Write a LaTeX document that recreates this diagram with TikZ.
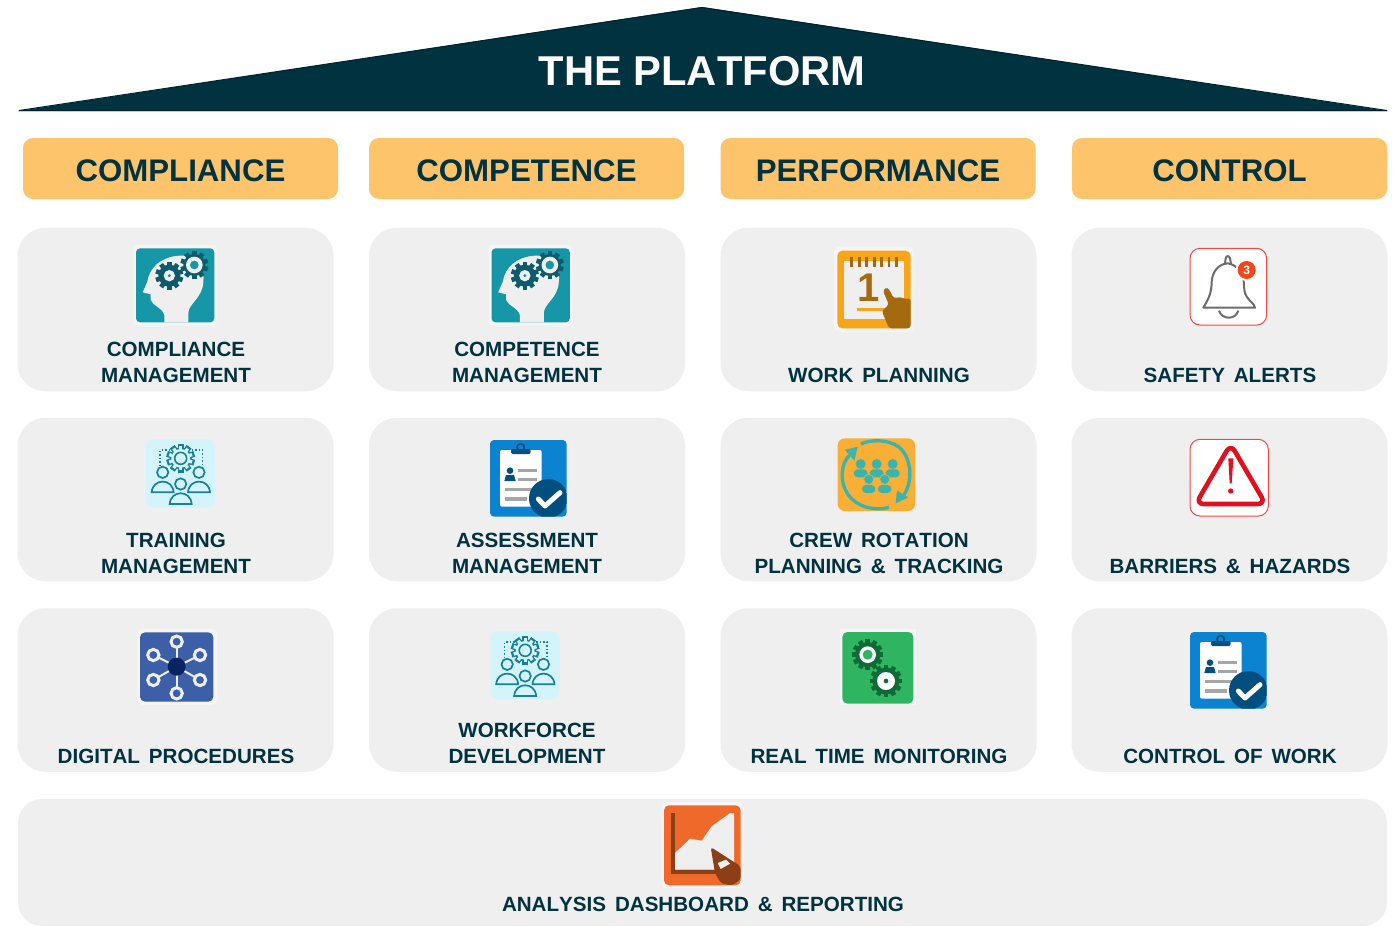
\documentclass[tikz,border=0pt]{standalone}
\usepackage{fontspec}
\setmainfont[Kerning=Off]{Liberation Sans}
\newfontfamily\labfont[Kerning=Off,WordSpace=1.55]{Liberation Sans}
\newcommand{\hdtext}[1]{\raisebox{0pt}[25pt][0pt]{#1}}
\definecolor{navy}{HTML}{00323F}
\definecolor{navyd}{HTML}{00222C}
\definecolor{amber}{HTML}{FDC46C}
\definecolor{panelgray}{HTML}{EFEFEF}
\definecolor{halo}{HTML}{F5F5F5}
\definecolor{teal1}{HTML}{1597A8}
\definecolor{teal2}{HTML}{0D5C6B}
\definecolor{cal}{HTML}{F9A51A}
\definecolor{calb}{HTML}{A5690F}
\definecolor{redl}{HTML}{F04848}
\definecolor{redw}{HTML}{E0101E}
\definecolor{badge}{HTML}{F0481A}
\definecolor{cyanb}{HTML}{D3F4FB}
\definecolor{peop}{HTML}{1A7F9C}
\definecolor{blueb}{HTML}{0B83D0}
\definecolor{bluedk}{HTML}{004F80}
\definecolor{crewo}{HTML}{F9AE35}
\definecolor{crewt}{HTML}{3BB4AE}
\definecolor{digb}{HTML}{3C5FA8}
\definecolor{digd}{HTML}{0A2463}
\definecolor{grn}{HTML}{2FB562}
\definecolor{grnd}{HTML}{0F6B35}
\definecolor{rep}{HTML}{EF6A2A}
\definecolor{repd}{HTML}{8C3F17}
\tikzset{
  panel/.style={fill=panelgray,draw=none,rounded corners=28pt,inner sep=0,outer sep=0},
  header/.style={fill=amber,draw=none,rounded corners=10pt,inner sep=0,outer sep=0,text=navy,
    font=\fontsize{31.2}{36}\selectfont\bfseries},
  lab/.style={anchor=south,align=center,inner sep=0,text=navy,
    font=\labfont\fontsize{20.6}{26}\selectfont\bfseries},
  icontext/.style={inner sep=0,font=\bfseries},
}
% gear: x y radius teeth toothlength toothhalfwidth colour
\newcommand{\gearshape}[7]{%
  \fill[#7] (#1,#2) circle[radius=#3];
  \foreach \i in {1,...,#4}{%
    \pgfmathsetmacro\ga{\i*360/#4}
    \fill[#7,shift={(#1,#2)},rotate=\ga] (-#6,0) rectangle (#6,#3+#5);
  }%
}
\newcommand{\headicon}[2]{%
\begin{scope}[shift={(#1,#2)},scale=1/3]
  \fill[halo,rounded corners=3pt] (40,30) rectangle (290,272);
  \fill[teal1,rounded corners=4pt] (48,40) rectangle (283,262);
  \fill[panelgray] (133,262) -- (133,240) .. controls (125,215) and (100,215) .. (92,195)
    -- (92,178) -- (68,172) -- (82,140) .. controls (88,95) and (130,60) .. (190,62)
    .. controls (235,65) and (255,110) .. (250,140) .. controls (248,190) and (205,205) .. (205,235)
    -- (205,262) -- cycle;
  \gearshape{148}{122}{33}{10}{9}{7}{teal2}
  \fill[panelgray] (148,122) circle[radius=17];
  \fill[teal1] (148,122) circle[radius=5];
  \gearshape{223}{90}{33}{10}{9}{7}{teal2}
  \fill[panelgray] (223,90) circle[radius=25];
  \fill[teal1] (223,90) circle[radius=13];
\end{scope}}
\newcommand{\peopleicon}[2]{%
\begin{scope}[shift={(#1,#2)},scale=1/3]
  \fill[cyanb,rounded corners=8pt] (48,27) rectangle (255,233);
  \draw[peop,line width=1.5pt,dotted] (120,60) -- (90,60) -- (90,105);
  \draw[peop,line width=1.5pt,dotted] (185,60) -- (218,60) -- (218,105);
  \gearshape{152}{85}{33}{10}{10}{9}{peop}
  \gearshape{152}{85}{28}{10}{8}{5}{cyanb}
  \draw[peop,line width=1.6pt] (152,85) circle[radius=18];
  \foreach \px/\py in {98/127,207/127,152/162}{%
    \draw[peop,line width=1.7pt,fill=cyanb] (\px,\py) circle[radius=17];
    \draw[peop,line width=1.7pt,fill=cyanb] (\px-33,\py+60) .. controls (\px-30,\py+17) and (\px+30,\py+17) .. (\px+33,\py+60) -- cycle;
  }
\end{scope}}
\newcommand{\clipicon}[2]{%
\begin{scope}[shift={(#1,#2)},scale=1/3]
  \fill[blueb,rounded corners=4pt] (30,30) rectangle (260,260);
  \fill[white,rounded corners=2pt] (60,60) rectangle (185,230);
  \fill[bluedk,rounded corners=2pt] (93,57) rectangle (152,72);
  \draw[bluedk,line width=1.8pt] (122,52) circle[radius=11];
  \fill[bluedk] (90,122) circle[radius=10];
  \fill[bluedk] (73,153) -- (78,135) -- (102,135) -- (107,153) -- cycle;
  \foreach \lx/\ly/\rx in {115/121/170,115/149/170,75/178/170,75/207/140}{%
    \draw[gray!70,line width=3.3pt] (\lx,\ly) -- (\rx,\ly);
  }
  \begin{scope}
    \clip[rounded corners=4pt] (30,30) rectangle (260,260);
    \fill[bluedk] (205,205) circle[radius=58];
  \end{scope}
  \draw[white,line width=5pt,line cap=round,line join=round] (175,207) -- (195,228) -- (240,188);
\end{scope}}
\begin{document}
\begin{tikzpicture}[x=1pt,y=-1pt]
\useasboundingbox (0,0) rectangle (1397,926);
\fill[white] (0,0) rectangle (1397,926);
% roof
\fill[navy] (18,111) -- (702,7) -- (1388,111) -- cycle;
\draw[navyd,line width=1pt,line join=bevel] (19,110.5) -- (702,7.5) -- (1387,110.5) -- cycle;
\node[text=white,inner sep=0,font=\fontsize{41.7}{48}\selectfont\bfseries] (title) at (702,71) {THE PLATFORM};
% headers
\node[header,minimum width=315pt,minimum height=61pt] (h1) at (180.5,168.5) {\hdtext{COMPLIANCE}};
\node[header,minimum width=315pt,minimum height=61pt] (h2) at (526.5,168.5) {\hdtext{COMPETENCE}};
\node[header,minimum width=315pt,minimum height=61pt] (h3) at (878,168.5) {\hdtext{PERFORMANCE}};
\node[header,minimum width=315pt,minimum height=61pt] (h4) at (1229.5,168.5) {\hdtext{CONTROL}};
% panels
\foreach \c/\cx in {1/175.5,2/527,3/878.5,4/1229.5}{
  \foreach \r/\cy in {1/309.5,2/499.5,3/690}{
    \node[panel,minimum width=316pt,minimum height=163.5pt] (p\r\c) at (\cx,\cy) {};
  }
}
\node[panel,minimum width=1369pt,minimum height=127pt,rounded corners=24pt] (p4) at (702.5,862.5) {};
% labels
\node[lab] (l11) at (176,383) {COMPLIANCE\\MANAGEMENT};
\node[lab] (l12) at (527,383) {COMPETENCE\\MANAGEMENT};
\node[lab] (l13) at (879,383) {WORK PLANNING};
\node[lab] (l14) at (1230,383) {SAFETY ALERTS};
\node[lab] (l21) at (176,574) {TRAINING\\MANAGEMENT};
\node[lab] (l22) at (527,574) {ASSESSMENT\\MANAGEMENT};
\node[lab] (l23) at (879,574) {CREW ROTATION\\PLANNING \& TRACKING};
\node[lab] (l24) at (1230,574) {BARRIERS \& HAZARDS};
\node[lab] (l31) at (176,763.5) {DIGITAL PROCEDURES};
\node[lab] (l32) at (527,763.5) {WORKFORCE\\DEVELOPMENT};
\node[lab] (l33) at (879,763.5) {REAL TIME MONITORING};
\node[lab] (l34) at (1230,763.5) {CONTROL OF WORK};
\node[lab] (l4) at (703,912) {ANALYSIS DASHBOARD \& REPORTING};
% head icons
\headicon{120}{235}
\headicon{475.5}{235}
% calendar
\begin{scope}[shift={(820,240)},scale=1/3]
  \fill[halo,rounded corners=5pt] (42,20) rectangle (282,275);
  \fill[cal,rounded corners=5pt] (52,32) rectangle (272,265);
  \fill[panelgray] (72,62) rectangle (252,238);
  \foreach \q in {95,118,140,163,185,207,230}{\draw[calb,line width=2.6pt] (\q,50) -- (\q,80);}
  \node[icontext,text=calb,font=\fontsize{40}{40}\selectfont\bfseries] (calone) at (145,143) {1};
  \fill[cal] (110,204) rectangle (192,213);
  \fill[calb,rounded corners=3pt] (188,150) -- (203,141) -- (222,176) -- (240,170) -- (255,178) -- (272,174)
    -- (272,265) -- (207,265) -- (185,212) -- (207,195) -- cycle;
\end{scope}
% bell
\begin{scope}[shift={(1175,240)},scale=1/3]
  \fill[white,draw=redl,line width=1pt,rounded corners=10pt] (45,25) rectangle (275,255);
  \draw[gray!85!black,line width=2pt,line join=round]
    (85,203) -- (240,203) .. controls (240,190) and (212,180) .. (208,150) -- (205,110)
    .. controls (195,85) and (170,70) .. (158,70) .. controls (130,72) and (112,95) .. (110,125)
    .. controls (110,165) and (95,185) .. (85,203) -- cycle;
  \draw[gray!85!black,line width=2pt] (150,70) -- (152,55) .. controls (154,46) and (162,46) .. (165,55) -- (168,72);
  \draw[gray!85!black,line width=2pt] (132,212) .. controls (140,240) and (182,240) .. (190,212);
  \fill[white] (215,90) circle[radius=33];
  \fill[badge] (215,90) circle[radius=27];
  \node[icontext,text=white,font=\fontsize{12}{12}\selectfont\bfseries] (bellthree) at (215,90) {3};
\end{scope}
% training / workforce
\peopleicon{130}{430}
\peopleicon{474.5}{622}
% assessment / control of work
\clipicon{480}{430}
\clipicon{1180}{622}
% crew
\begin{scope}[shift={(825,430)},scale=1/3]
  \fill[crewo,rounded corners=7pt] (38,25) rectangle (270,243);
  \draw[crewt,line width=3.3pt] (108,42) .. controls (135,28) and (190,28) .. (220,50)
    .. controls (255,75) and (268,145) .. (237,195);
  \fill[crewt] (212,220) -- (216,182) -- (250,202) -- cycle;
  \draw[crewt,line width=3.3pt] (192,232) .. controls (150,245) and (95,230) .. (70,195)
    .. controls (40,150) and (50,100) .. (73,76);
  \fill[crewt] (98,50) -- (60,60) -- (88,92) -- cycle;
  \foreach \px/\py in {107/102,155/102,203/102}{%
    \fill[crewt] (\px,\py) circle[radius=15];
    \fill[crewt,rounded corners=4pt] (\px-21,\py+16) rectangle (\px+21,\py+40);
  }
  \foreach \px/\py in {131/148,179/148}{%
    \fill[crewt,draw=crewo,line width=.6pt] (\px,\py) circle[radius=15];
    \fill[crewt,draw=crewo,line width=.6pt,rounded corners=4pt] (\px-21,\py+16) rectangle (\px+21,\py+42);
  }
\end{scope}
% digital
\begin{scope}[shift={(130,625)},scale=1/3]
  \fill[halo,rounded corners=5pt] (22,12) rectangle (262,240);
  \fill[digb,rounded corners=5pt] (30,22) rectangle (250,230);
  \foreach \ax/\ay/\bx/\by in {140/50/140/125,70/90/140/125,210/90/140/125,70/165/140/125,210/165/140/125,140/205/140/125}{%
    \draw[white!90!digb,line width=2pt] (\ax,\ay) -- (\bx,\by);
    \draw[white!90!digb,line width=3pt,fill=digb] (\ax,\ay) circle[radius=17];
  }
  \fill[digd] (140,125) circle[radius=27];
\end{scope}
% monitoring
\begin{scope}[shift={(830,622)},scale=1/3]
  \fill[halo] (30,22) rectangle (257,250);
  \fill[grn,rounded corners=5pt] (37,30) rectangle (250,245);
  \gearshape{113}{98}{38}{12}{9}{7}{grnd}
  \fill[white] (113,98) circle[radius=25];
  \fill[grn] (113,98) circle[radius=15];
  \gearshape{168}{177}{40}{12}{9}{7}{grnd}
  \fill[white] (168,177) circle[radius=27];
  \fill[grnd] (168,177) circle[radius=7];
\end{scope}
% warning
\begin{scope}[shift={(1175,430)},scale=1/3]
  \fill[white,draw=redl,line width=1pt,rounded corners=10pt] (45,28) rectangle (280,258);
  \draw[redw,line width=4.6pt,rounded corners=8pt,line join=round] (167,42) -- (272,222) -- (62,222) -- cycle;
  \fill[redw] (160,85) -- (175,85) -- (170,160) -- (164,160) -- cycle;
  \fill[redw] (167,183) circle[radius=8];
\end{scope}
% report
\begin{scope}[shift={(650,798)},scale=1/3]
  \fill[halo,rounded corners=5pt] (34,12) rectangle (280,270);
  \fill[rep,rounded corners=5pt] (42,22) rectangle (272,262);
  \fill[panelgray] (75,165) -- (120,122) -- (155,128) -- (185,85) -- (240,45) -- (252,45) -- (252,215) -- (75,215) -- cycle;
  \draw[repd,line width=3.8pt] (68,45) -- (68,222) -- (200,222);
  \fill[repd,rounded corners=3pt] (182,147) -- (272,205) -- (272,245) -- (245,263) -- (212,255) -- (195,225) -- cycle;
  \fill[panelgray] (203,195) -- (228,185) -- (240,197) -- (212,213) -- cycle;
\end{scope}
\end{tikzpicture}
\end{document}
